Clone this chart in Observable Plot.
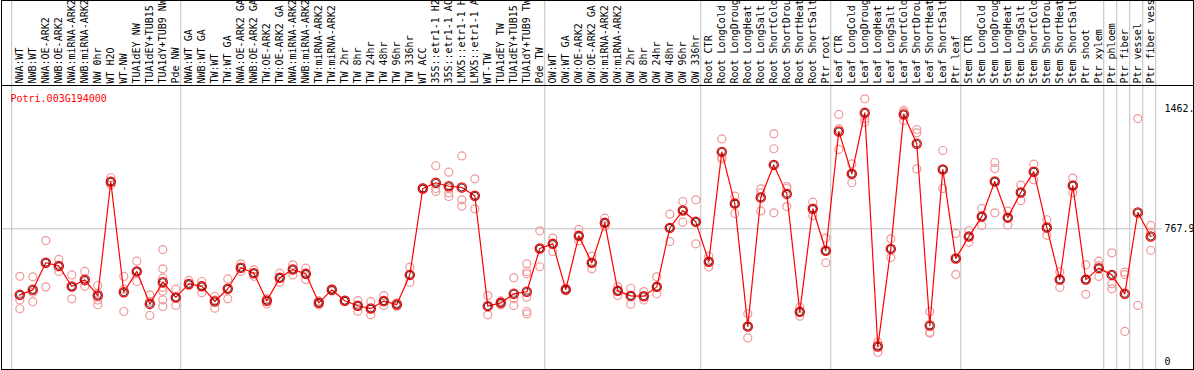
<!DOCTYPE html>
<html><head><meta charset="utf-8">
<script src="https://cdn.jsdelivr.net/npm/d3@7"></script>
<script src="https://cdn.jsdelivr.net/npm/@observablehq/plot@0.6"></script>
<style>body{margin:0;background:#fff}</style>
</head><body><div id="chart"></div>
<script>
const geneId = "Potri.003G194000";
const sampleLabels = [
  "NWA:WT","NWB:WT","NWA:OE-ARK2","NWB:OE-ARK2","NWA:miRNA-ARK2","NWB:miRNA-ARK2","NW 0hr","WT H2O","WT-NW","TUA1dEY NW","TUA1dEY+TUB15","TUA1dY+TUB9 NW","Pde NW",
  "NWA:WT GA","NWB:WT GA","TW:WT","TW:WT GA","NWA:OE-ARK2 GA","NWB:OE-ARK2 GA","TW:OE-ARK2","TW:OE-ARK2 GA","NWA:miRNA-ARK2","NWB:miRNA-ARK2","TW:miRNA-ARK2","TW:miRNA-ARK2","TW 2hr","TW 8hr","TW 24hr","TW 48hr","TW 96hr","TW 336hr","WT ACC","35S::etr1-1 H2","35S::etr1-1 AC","LMX5::etr1-1 H","LMX5::etr1-1 A","WT-TW","TUA1dEY TW","TUA1dEY+TUB15","TUA1dY+TUB9 TW","Pde TW",
  "OW:WT","OW:WT GA","OW:OE-ARK2","OW:OE-ARK2 GA","OW:miRNA-ARK2","OW:miRNA-ARK2","OW 2hr","OW 8hr","OW 24hr","OW 48hr","OW 96hr","OW 336hr",
  "Root CTR","Root LongCold","Root LongDroug","Root LongHeat","Root LongSalt","Root ShortCold","Root ShortDrou","Root ShortHeat","Root ShortSalt","Ptr root",
  "Leaf CTR","Leaf LongCold","Leaf LongDroug","Leaf LongHeat","Leaf LongSalt","Leaf ShortCold","Leaf ShortDrou","Leaf ShortHeat","Leaf ShortSalt","Ptr leaf",
  "Stem CTR","Stem LongCold","Stem LongDroug","Stem LongHeat","Stem LongSalt","Stem ShortCold","Stem ShortDrou","Stem ShortHeat","Stem ShortSalt","Ptr shoot","Ptr xylem",
  "Ptr phloem","Ptr fiber","Ptr vessel","Ptr fiber vess"
];
const groupSizes = [13, 28, 12, 10, 10, 11, 1, 1, 1, 1];
const meanValues = [
  387,416,572,554,435,474,383,1039,402,522,335,460,372,
  450,436,349,422,543,512,353,485,533,508,341,416,353,324,308,351,331,502,1000,1033,1013,1006,958,322,341,393,405,654,
  681,418,727,572,802,410,381,379,433,773,873,808,
  578,1211,913,205,948,1136,969,289,883,641,
  1329,1085,1436,89,652,1427,1258,210,1110,597,
  723,838,1040,832,977,1097,775,475,1017,475,541,
  502,393,862,723
];
const replicateValues = [
  [494,358,307],[491,402,347],[700,575,433],[591,548,522],[502,435,364],[522,465,437],[441,396,358,330],[1062,1035,1020],[493,420,291],[581,522,464],[387,350,268],[648,537,483,430,408,358,320],[420,372,326],
  [470,451,441],[464,440,399],[379,357,310],[479,422,364],[566,543,522],[531,512,494],[364,358,335],[512,485,460],[560,535,502],[541,508,475],[352,341,329],[422,416,410],[356,353,350],[354,324,293],[349,308,272],[383,351,326],[341,331,322],[547,502,460],[1005,1000,995],[1131,1000,983],[1094,1000,975,954],[1188,935,898],[1056,958,883],[383,322,272],[352,341,329],[485,364,326],[566,522,508,373,291,277],[756,654,549],
  [714,683,637],[425,418,410],[764,727,698],[610,572,537],[829,802,783],[435,410,383],[425,381,333],[406,379,358],[491,433,393],[852,773,694],[925,873,806],[935,808,681],
  [610,578,547],[1286,1180,1170],[956,913,856],[278,205,139],[998,975,871],[1315,1229,860],[1011,1000,896],[316,289,264],[921,883,844],[714,641,572],
  [1427,1344,1225],[1142,1085,1033],[1517,1402,1382],[114,96,56],[710,652,602],[1450,1440,1391],[1340,1321,1113],[291,172,167],[1219,1110,1000],[741,597,504],
  [758,723,690],[885,838,787],[1150,1115,1040,860],[870,832,790],[1020,977,930],[1140,1097,1050],[820,775,730],[520,475,430],[1060,1017,975],[560,475,390],[581,556,493],
  [629,451,422],[518,504,176],[1403,326],[787,748,644]
];
const yTickValues = [0, 767.9, 1462];
const yTickLabels = ["0", "767.9", "1462."];

const means = meanValues.map((v, i) => ({i, v}));
const reps = replicateValues.flatMap((arr, i) => arr.map(v => ({i, v})));
const groupStarts = d3.cumsum([0, ...groupSizes]);

const W = 1194, H = 370, mTop = 85, mRight = 32;
const font = "DejaVu Sans Mono";

const chart = Plot.plot({
  width: W, height: H,
  marginTop: mTop, marginBottom: 1, marginLeft: 1, marginRight: mRight,
  x: {type: "linear", domain: [(1 - 19.3) / 13, (W - mRight - 19.3) / 13], axis: null, label: null},
  y: {domain: [(361.5 - 369) / 0.1735, (361.5 - mTop) / 0.1735], axis: null, label: null},
  style: {fontFamily: font, fontSize: "10px", background: "white", color: "black"},
  marks: [
    Plot.ruleY([yTickValues[1]], {stroke: "#c0c0c0"}),
    Plot.ruleX(groupStarts, {x: d => d - 0.62, stroke: "#c0c0c0", insetTop: -mTop}),
    Plot.frame({stroke: "black", insetRight: -(mRight - 1)}),
    Plot.frame({stroke: "black", insetRight: -(mRight - 1), insetTop: -mTop}),
    Plot.axisX(d3.range(sampleLabels.length), {
      anchor: "top", tickSize: 0, tickPadding: 2, tickRotate: -90, label: null,
      tickFormat: i => sampleLabels[i], fontSize: 10, fill: "black"
    }),
    Plot.axisY(yTickValues, {
      anchor: "right", tickSize: 0, tickPadding: 2, label: null,
      tickFormat: d => yTickLabels[yTickValues.indexOf(d)], fontSize: 10, fill: "black"
    }),
    Plot.dot(reps, {x: "i", y: "v", r: 4, stroke: "#f09898", strokeWidth: 1.2}),
    Plot.line(means, {x: "i", y: "v", stroke: "red", strokeWidth: 1.2}),
    Plot.dot(means, {x: "i", y: "v", r: 4.6, stroke: "red", strokeWidth: 1.3}),
    Plot.dot(means, {x: "i", y: "v", r: 3.5, stroke: "#200000", strokeWidth: 0.8}),
    Plot.text([geneId], {frameAnchor: "top-left", dx: 9, dy: 9, fill: "red", fontSize: 10, textAnchor: "start"})
  ]
});
document.getElementById("chart").appendChild(chart);
</script>
</body></html>
